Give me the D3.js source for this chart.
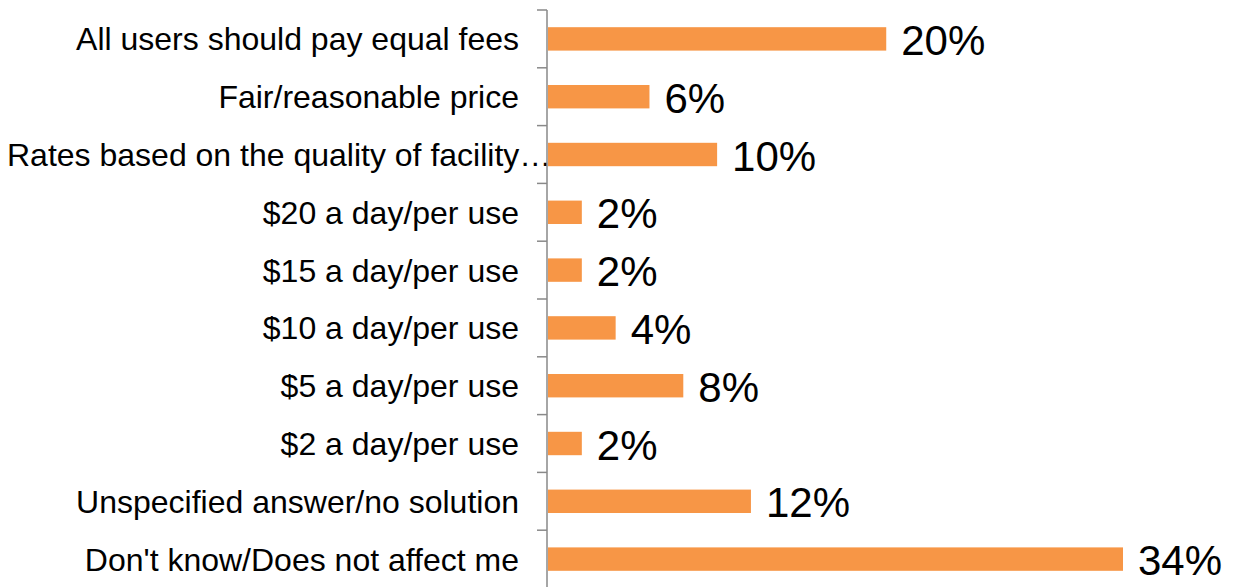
<!DOCTYPE html>
<html>
<head>
<meta charset="utf-8">
<script src="https://cdn.jsdelivr.net/npm/d3@7"></script>
<style>
  html, body { margin: 0; padding: 0; background: #fff; }
  svg { display: block; font-family: "Liberation Sans", Arial, sans-serif; }
</style>
</head>
<body>
<svg id="chart" width="1240" height="587"></svg>
<script>
// Survey responses: preferred fee approach
const categories = [
  "All users should pay equal fees",
  "Fair/reasonable price",
  "Rates based on the quality of facility\u2026",
  "$20 a day/per use",
  "$15 a day/per use",
  "$10 a day/per use",
  "$5 a day/per use",
  "$2 a day/per use",
  "Unspecified answer/no solution",
  "Don't know/Does not affect me"
];
const shares = [20, 6, 10, 2, 2, 4, 8, 2, 12, 34];
const valueLabels = ["20%", "6%", "10%", "2%", "2%", "4%", "8%", "2%", "12%", "34%"];

const svg = d3.select("#chart");
const axisX = 547;

const y = d3.scaleBand()
  .domain(categories)
  .range([10, 588])
  .padding(0);

const x = d3.scaleLinear()
  .domain([0, 34])
  .range([axisX + 1, 1123]);

const barH = y.bandwidth() * 0.405;

// bars
svg.append("g")
  .selectAll("rect")
  .data(categories)
  .join("rect")
  .attr("x", x(0))
  .attr("y", d => y(d) + (y.bandwidth() - barH) / 2)
  .attr("width", (d, i) => x(shares[i]) - x(0))
  .attr("height", barH)
  .attr("fill", "#F79646");

// value labels
svg.append("g")
  .selectAll("text")
  .data(categories)
  .join("text")
  .attr("x", (d, i) => x(shares[i]) + 15)
  .attr("y", d => y(d) + y.bandwidth() / 2 + 16)
  .attr("font-size", 42)
  .attr("fill", "#000")
  .text((d, i) => valueLabels[i]);

// category labels (the truncated long label runs from the left edge)
svg.append("g")
  .selectAll("text")
  .data(categories)
  .join("text")
  .attr("x", d => d.endsWith("\u2026") ? 7 : 519)
  .attr("y", d => y(d) + y.bandwidth() / 2 + 11.5)
  .attr("text-anchor", d => d.endsWith("\u2026") ? "start" : "end")
  .attr("font-size", 32)
  .attr("fill", "#000")
  .text(d => d);

// category axis: vertical line with ticks at band boundaries
const axis = svg.append("g").attr("stroke", "#898989").attr("stroke-width", 1.5);
axis.append("line")
  .attr("x1", axisX).attr("x2", axisX)
  .attr("y1", y.range()[0]).attr("y2", y.range()[1]);
const boundaries = categories.map(d => y(d)).concat([y.range()[1]]);
axis.selectAll("line.tick")
  .data(boundaries)
  .join("line")
  .attr("class", "tick")
  .attr("x1", axisX - 10).attr("x2", axisX)
  .attr("y1", d => d).attr("y2", d => d);
</script>
</body>
</html>
